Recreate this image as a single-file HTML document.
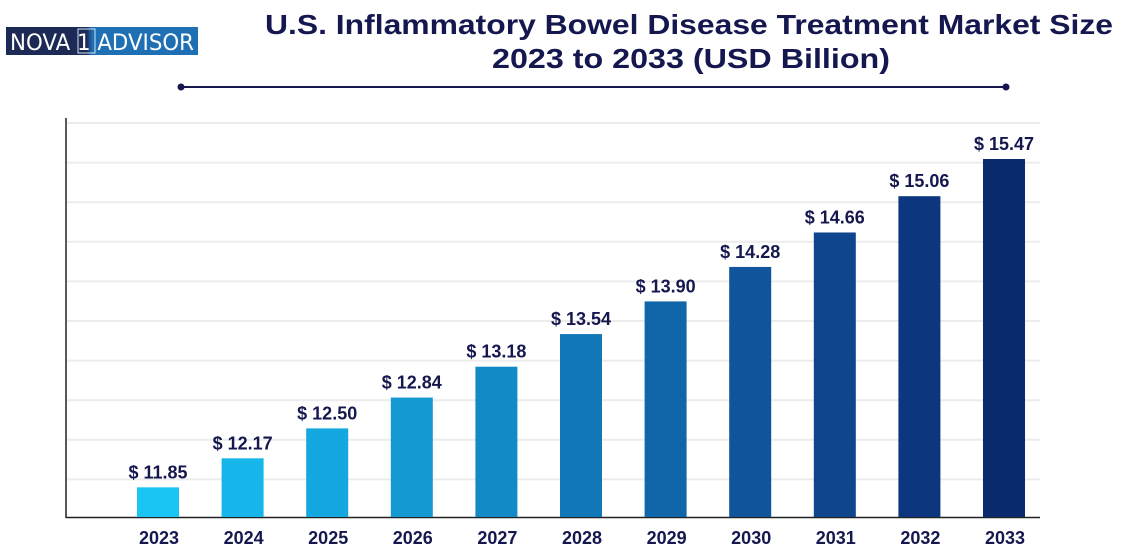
<!DOCTYPE html>
<html><head><meta charset="utf-8"><style>
body{margin:0;background:#fff;width:1128px;height:554px;overflow:hidden;font-family:"Liberation Sans",sans-serif}
</style></head><body>
<svg width="1128" height="554" xmlns="http://www.w3.org/2000/svg">
<defs>
<linearGradient id="lg" x1="0" x2="1"><stop offset="0" stop-color="#1d2a55"/><stop offset="0.42" stop-color="#1d2a55"/><stop offset="0.45" stop-color="#1f6fb5"/><stop offset="1" stop-color="#1f6fb5"/></linearGradient>
</defs>
<g>
<rect x="6" y="27" width="192" height="28" fill="url(#lg)"/>
<text x="10" y="50" font-size="22" fill="#fff" font-family="'DejaVu Sans',sans-serif" textLength="184" lengthAdjust="spacingAndGlyphs">NOVA 1 ADVISOR</text>
<rect x="78" y="29" width="17" height="24" fill="none" stroke="#cfe3f5" stroke-width="1"/>
</g>
<text x="265" y="34" font-size="28" font-weight="bold" fill="#15174f" textLength="848" lengthAdjust="spacingAndGlyphs">U.S. Inflammatory Bowel Disease Treatment Market Size</text>
<text x="492" y="68" font-size="28" font-weight="bold" fill="#15174f" textLength="398" lengthAdjust="spacingAndGlyphs">2023 to 2033 (USD Billion)</text>
<g>
<line x1="181" y1="87" x2="1006" y2="87" stroke="#15174f" stroke-width="2"/>
<circle cx="181" cy="87" r="3.5" fill="#15174f"/><circle cx="1006" cy="87" r="3.5" fill="#15174f"/>
</g>
<g id="grid"></g>
<line x1="66" y1="118" x2="66" y2="518" stroke="#222" stroke-width="1.5"/>
<line x1="66" y1="517.5" x2="1040" y2="517.5" stroke="#222" stroke-width="1.5"/>
<g id="bars"></g>
</svg>
<script>
const categories=["2023","2024","2025","2026","2027","2028","2029","2030","2031","2032","2033"];
const values=[11.85,12.17,12.50,12.84,13.18,13.54,13.90,14.28,14.66,15.06,15.47];
const colors=["#19c5f3","#17b6ea","#15a8e0","#1499d3","#1389c6","#1278b8","#1166aa","#10559b","#0e458c","#0c367d","#0a2a6e"];
const NS="http://www.w3.org/2000/svg";
const y0=517,vmin=11.523,ppu=90.7;
const yScale=v=>y0-(v-vmin)*ppu;
const xScale=i=>158+i*84.6;
const grid=document.getElementById('grid');
for(let k=0;k<10;k++){const gy=123+k*39.6;const l=document.createElementNS(NS,'line');
l.setAttribute('x1',67);l.setAttribute('x2',1040);l.setAttribute('y1',gy);l.setAttribute('y2',gy);
l.setAttribute('stroke','#ececec');l.setAttribute('stroke-width','2');


grid.appendChild(l);}
const g=document.getElementById('bars');
categories.forEach((c,i)=>{
const x=xScale(i),y=yScale(values[i]);
const r=document.createElementNS(NS,'rect');
r.setAttribute('x',x-21);r.setAttribute('y',y);r.setAttribute('width',42);r.setAttribute('height',y0-y);r.setAttribute('fill',colors[i]);


g.appendChild(r);
const t=document.createElementNS(NS,'text');
t.setAttribute('x',x);t.setAttribute('y',y-9);t.setAttribute('text-anchor','middle');t.setAttribute('font-size','18');t.setAttribute('font-weight','bold');t.setAttribute('fill','#15174f');
t.textContent='$ '+values[i].toFixed(2);


g.appendChild(t);
const xl=document.createElementNS(NS,'text');
xl.setAttribute('x',x+1);xl.setAttribute('y',544);xl.setAttribute('text-anchor','middle');xl.setAttribute('font-size','18');xl.setAttribute('font-weight','bold');xl.setAttribute('fill','#15174f');
xl.textContent=c;


g.appendChild(xl);
});
</script>
</body></html>
